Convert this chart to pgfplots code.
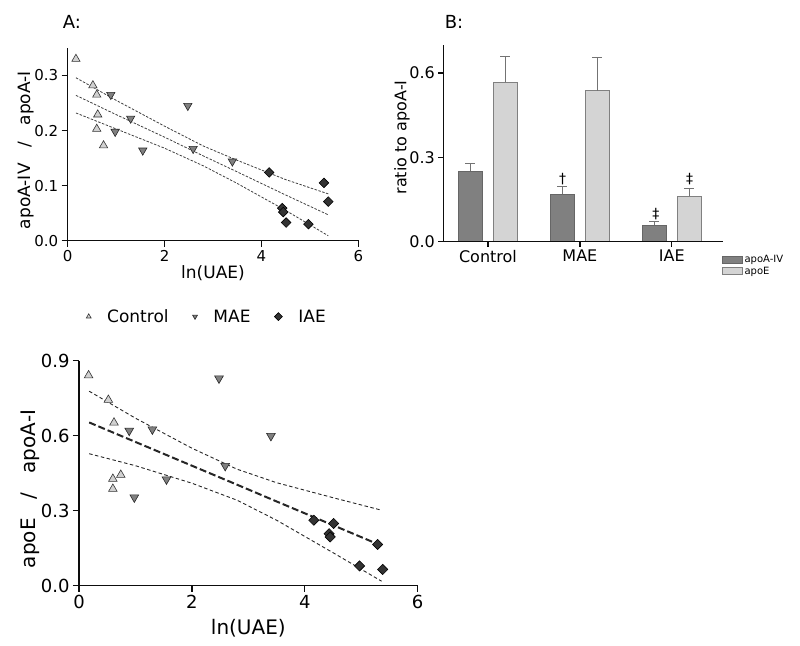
\documentclass[border=0pt]{standalone}
\usepackage{fontspec}
\setmainfont{DejaVu Sans}
\usepackage{pgfplots}
\pgfplotsset{compat=1.18}
\definecolor{ctrl}{gray}{0.82}
\definecolor{mae}{gray}{0.5}
\definecolor{iae}{gray}{0.2}
\definecolor{barA}{gray}{0.5}
\definecolor{barE}{gray}{0.83}
\definecolor{axc}{gray}{0.05}
\pgfplotsset{gp/.style={scale only axis, axis lines*=left, tick align=outside, major tick length=6pt,
  axis line style={line width=1.3pt, black}, tick style={line width=1.3pt, black},
  /pgf/number format/assume math mode=true, clip=false},
  onedec/.style={/pgf/number format/fixed, /pgf/number format/fixed zerofill, /pgf/number format/precision=1},
  ctrlm/.style={only marks, mark=triangle*, mark size=4.8pt, mark options={fill=ctrl, draw=black!80, line width=0.6pt}},
  maem/.style={only marks, mark=triangle*, mark size=4.8pt, mark options={rotate=180, fill=mae, draw=black!85, line width=0.6pt}},
  iaem/.style={only marks, mark=square*, mark size=3.4pt, mark options={rotate=45, fill=iae, draw=black, line width=0.6pt}},
  bandA/.style={black!75, line width=0.8pt, dash pattern=on 2.5pt off 1.5pt, forget plot},
}
\begin{document}
\begin{tikzpicture}
\path (0pt,0pt) (800pt,645pt);
\node[font=\fontsize{18}{18}\selectfont] at (72pt,623pt) {A:};
\node[font=\fontsize{18}{18}\selectfont] at (454pt,623pt) {B:};
% ---------------- Panel A
\begin{axis}[gp, at={(67.7pt,404.3pt)}, anchor=south west, width=290.6pt, height=192.7pt,
  xmin=0, xmax=6, ymin=0, ymax=0.35, xtick={0,2,4,6}, ytick={0,0.1,0.2,0.3},
  yticklabel style={onedec},
  ticklabel style={font=\fontsize{15}{15}\selectfont},
  xlabel={ln(UAE)}, ylabel={apoA-IV\ \ \ /\ \ \ apoA-I},
  label style={font=\fontsize{17}{17}\selectfont},
  xlabel style={at={(axis description cs:0.5,-0.171)}, anchor=center},
  ylabel style={at={(axis description cs:-0.1445,0.47)}, anchor=center}]
\addplot[bandA] coordinates {(0.17,0.296)(1,0.255)(2,0.208)(2.8,0.172)(3.5,0.146)(4.5,0.111)(5.38,0.085)};
\addplot[bandA] coordinates {(0.17,0.264)(1,0.229)(2,0.188)(2.8,0.154)(3.5,0.125)(4.5,0.083)(5.38,0.047)};
\addplot[bandA] coordinates {(0.17,0.232)(1,0.203)(2,0.168)(2.8,0.136)(3.5,0.104)(4.5,0.055)(5.38,0.009)};
\addplot[ctrlm] coordinates {(0.17,0.330)(0.52,0.282)(0.60,0.265)(0.62,0.229)(0.60,0.203)(0.74,0.173)};
\addplot[maem] coordinates {(0.89,0.265)(1.30,0.222)(0.98,0.198)(1.55,0.164)(2.48,0.245)(2.59,0.167)(3.40,0.144)};
\addplot[iaem] coordinates {(4.16,0.124)(4.43,0.059)(4.45,0.052)(4.51,0.033)(4.97,0.030)(5.29,0.105)(5.38,0.071)};
\end{axis}
% ---------------- Panel B
\begin{axis}[gp, at={(443.3pt,403.3pt)}, anchor=south west, width=280pt, height=196.7pt,
  ybar=11.5pt, bar width=23.5pt,
  xmin=-0.486, xmax=2.56, ymin=0, ymax=0.70, xtick={0,1,2}, xticklabels={Control,MAE,IAE},
  ytick={0,0.3,0.6}, major tick length=5pt,
  yticklabel style={onedec, font=\fontsize{16}{16}\selectfont},
  xticklabel style={font=\fontsize{16}{16}\selectfont},
  ylabel={ratio to apoA-I},
  label style={font=\fontsize{16}{16}\selectfont},
  ylabel style={at={(axis description cs:-0.148,0.53)}, anchor=center},
  legend style={at={(axis description cs:0.994,-0.057)}, anchor=north west, draw=none, fill=none,
    inner sep=0pt, font=\fontsize{10}{12}\selectfont, cells={anchor=west}, row sep=-1pt},
  legend image code/.code={\filldraw[#1] (0pt,-3.5pt) rectangle (20pt,3.5pt);}]
\addplot[fill=barA, draw=black!60, line width=0.7pt,
  error bars/.cd, y dir=plus, y explicit, error bar style={gray!90!black, line width=1.2pt},
  error mark options={rotate=90, mark size=5pt, gray!90!black, line width=1.2pt}]
  coordinates {(0,0.251) +- (0,0.028) (1,0.169) +- (0,0.027) (2,0.058) +- (0,0.013)};
\addplot[fill=barE, draw=black!50, line width=0.7pt,
  error bars/.cd, y dir=plus, y explicit, error bar style={gray!90!black, line width=1.2pt},
  error mark options={rotate=90, mark size=5pt, gray!90!black, line width=1.2pt}]
  coordinates {(0,0.567) +- (0,0.092) (1,0.537) +- (0,0.119) (2,0.162) +- (0,0.028)};
\legend{apoA-IV,apoE}
\node[font=\fontsize{14}{14}\selectfont] at (axis cs:0.812,0.222) {†};
\node[font=\fontsize{14}{14}\selectfont] at (axis cs:1.826,0.097) {‡};
\node[font=\fontsize{14}{14}\selectfont] at (axis cs:2.194,0.222) {‡};
\end{axis}
% ---------------- Panel C
\begin{axis}[gp, at={(79pt,59.3pt)}, anchor=south west, width=338.7pt, height=225pt,
  xmin=0, xmax=6, ymin=0, ymax=0.9, xtick={0,2,4,6}, ytick={0,0.3,0.6,0.9},
  yticklabel style={onedec},
  ticklabel style={font=\fontsize{18}{18}\selectfont},
  xlabel={ln(UAE)}, ylabel={apoE\ \ \ /\ \ \ apoA-I},
  label style={font=\fontsize{20}{20}\selectfont},
  xlabel style={at={(axis description cs:0.5,-0.187)}, anchor=center},
  ylabel style={at={(axis description cs:-0.145,0.43)}, anchor=center},
  legend columns=3,
  legend style={at={(axis description cs:0.021,1.196)}, anchor=west, draw=none, fill=none, inner sep=0pt,
    font=\fontsize{17}{17}\selectfont, /tikz/every even column/.append style={column sep=22pt},
    /tikz/every odd column/.append style={column sep=14pt}},
  legend image post style={mark size=2.8pt}]
\addplot[black!85, line width=0.9pt, dash pattern=on 3.5pt off 2.5pt, forget plot] coordinates {(0.18,0.778)(1,0.670)(2,0.550)(2.8,0.466)(3.5,0.412)(4.5,0.352)(5.36,0.302)};
\addplot[black!85, line width=2pt, dash pattern=on 7pt off 3pt, forget plot] coordinates {(0.18,0.653)(1,0.575)(2,0.480)(2.8,0.404)(3.5,0.337)(4.5,0.242)(5.36,0.160)};
\addplot[black!85, line width=0.9pt, dash pattern=on 3.5pt off 2.5pt, forget plot] coordinates {(0.18,0.528)(1,0.480)(2,0.410)(2.8,0.342)(3.5,0.262)(4.5,0.132)(5.36,0.018)};
\addplot[ctrlm, mark size=5pt] coordinates {(0.17,0.841)(0.52,0.743)(0.62,0.652)(0.74,0.443)(0.60,0.427)(0.60,0.387)};
\addplot[maem, mark size=5pt] coordinates {(0.89,0.620)(1.30,0.625)(0.98,0.353)(1.55,0.425)(2.48,0.829)(2.59,0.479)(3.40,0.599)};
\addplot[iaem, mark size=3.6pt] coordinates {(4.16,0.262)(4.51,0.249)(4.43,0.208)(4.45,0.195)(4.97,0.079)(5.29,0.165)(5.38,0.065)};
\legend{Control,MAE,IAE}
\end{axis}
% ---------------- axis frames as thin filled strips
% panel A
\fill[axc] (67.0pt,403.6pt) rectangle (68.4pt,597pt);
\fill[axc] (67.0pt,403.6pt) rectangle (359pt,405.0pt);
\fill[axc] (67.05pt,398.3pt) rectangle (68.35pt,404pt);
\fill[axc] (163.92pt,398.3pt) rectangle (165.22pt,404pt);
\fill[axc] (260.78pt,398.3pt) rectangle (262.08pt,404pt);
\fill[axc] (357.65pt,398.3pt) rectangle (358.95pt,404pt);
\fill[axc] (61.7pt,403.65pt) rectangle (68pt,404.95pt);
\fill[axc] (61.7pt,458.71pt) rectangle (68pt,460.01pt);
\fill[axc] (61.7pt,513.76pt) rectangle (68pt,515.06pt);
\fill[axc] (61.7pt,568.82pt) rectangle (68pt,570.12pt);
% panel B
\fill[axc] (442.6pt,402.6pt) rectangle (444.0pt,600pt);
\fill[axc] (442.6pt,402.6pt) rectangle (723.3pt,404.0pt);
\fill[axc] (438.3pt,402.65pt) rectangle (443pt,403.95pt);
\fill[axc] (438.3pt,486.95pt) rectangle (443pt,488.25pt);
\fill[axc] (438.3pt,571.25pt) rectangle (443pt,572.55pt);
\fill[axc] (487.32pt,399.3pt) rectangle (488.62pt,403pt);
\fill[axc] (579.25pt,399.3pt) rectangle (580.55pt,403pt);
\fill[axc] (671.15pt,399.3pt) rectangle (672.45pt,403pt);
% panel C
\fill[axc] (78.3pt,58.6pt) rectangle (79.7pt,284.3pt);
\fill[axc] (78.3pt,58.6pt) rectangle (418.4pt,60.0pt);
\fill[axc] (78.35pt,53.3pt) rectangle (79.65pt,59pt);
\fill[axc] (191.25pt,53.3pt) rectangle (192.55pt,59pt);
\fill[axc] (304.15pt,53.3pt) rectangle (305.45pt,59pt);
\fill[axc] (417.05pt,53.3pt) rectangle (418.35pt,59pt);
\fill[axc] (73pt,58.65pt) rectangle (79pt,59.95pt);
\fill[axc] (73pt,133.65pt) rectangle (79pt,134.95pt);
\fill[axc] (73pt,208.65pt) rectangle (79pt,209.95pt);
\fill[axc] (73pt,283.65pt) rectangle (79pt,284.95pt);
\end{tikzpicture}
\end{document}
